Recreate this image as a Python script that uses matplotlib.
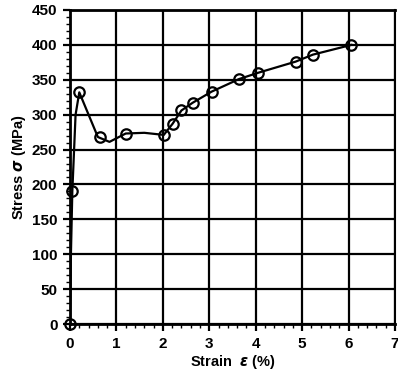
import matplotlib
matplotlib.use("Agg")
import matplotlib.pyplot as plt
from matplotlib.ticker import MultipleLocator

# Data
curve_strain = [0, 0.02, 0.05, 0.12, 0.2, 0.6, 0.85, 1.2, 1.6, 2.02, 2.21, 2.4, 2.64, 3.05, 3.64, 4.05, 4.86, 5.23, 6.06]
curve_stress = [0, 100, 190, 300, 332, 268, 261, 273, 274, 271, 287, 306, 317, 333, 351, 360, 376, 386, 400]
point_strain = [0, 0.05, 0.2, 0.64, 1.2, 2.02, 2.21, 2.4, 2.64, 3.05, 3.64, 4.05, 4.86, 5.23, 6.06]
point_stress = [0, 190, 332, 268, 273, 271, 287, 306, 317, 333, 351, 360, 376, 386, 400]

plt.rcParams['font.family'] = ['Liberation Sans', 'DejaVu Sans']
plt.rcParams['font.weight'] = 'bold'

fig = plt.figure(figsize=(3.98, 3.85), dpi=100)
ax = fig.add_axes([70/398, 1-324/385, 325/398, 314/385])

ax.plot(curve_strain, curve_stress, color='black', lw=1.6, zorder=3)
ax.plot(point_strain, point_stress, 'o', mfc='none', mec='black', mew=1.6, ms=7.5, zorder=4, clip_on=False)

ax.set_xlim(0, 7)
ax.set_ylim(0, 450)
ax.xaxis.set_major_locator(MultipleLocator(1))
ax.xaxis.set_minor_locator(MultipleLocator(0.2))
ax.yaxis.set_major_locator(MultipleLocator(50))
ax.yaxis.set_minor_locator(MultipleLocator(10))
ax.grid(True, which='major', color='black', lw=1.6)
ax.set_axisbelow(True)
for s in ax.spines.values():
    s.set_linewidth(2)
ax.spines['right'].set_linewidth(1.5)
ax.tick_params(which='major', direction='out', length=5, width=1.6, labelsize=11, pad=4)
ax.tick_params(which='minor', direction='out', length=3, width=1)
for lab in ax.get_xticklabels() + ax.get_yticklabels():
    lab.set_fontweight('bold')

ax.set_xlabel(r'Strain  $\varepsilon$ (%)', fontsize=10.5, fontweight='bold', labelpad=2)
ax.set_ylabel(r'Stress $\sigma$ (MPa)', fontsize=10.5, fontweight='bold', labelpad=3)

fig.savefig('out.png', dpi=100)
